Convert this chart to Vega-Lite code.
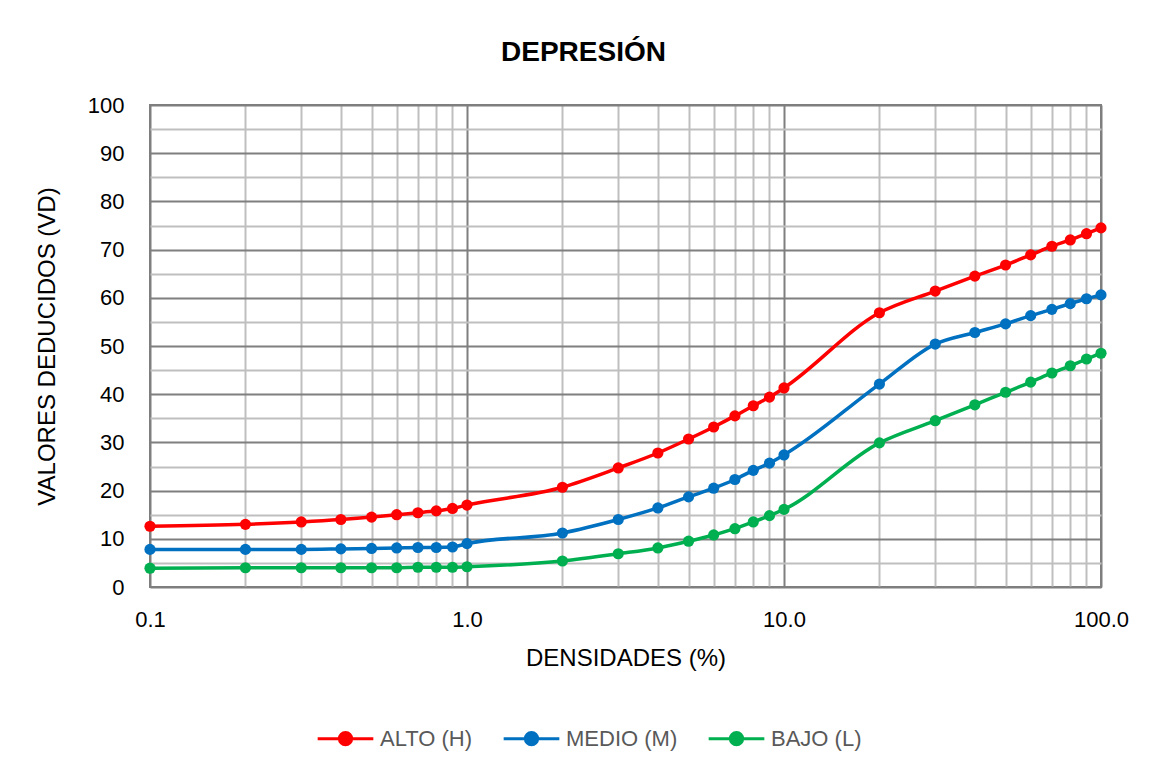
{
  "$schema": "https://vega.github.io/schema/vega-lite/v6.json",
  "width": 951,
  "height": 482,
  "autosize": {"type": "none"},
  "padding": {"left": 150, "top": 105, "right": 56, "bottom": 184},
  "background": "white",
  "title": {"text": "DEPRESIÓN", "fontSize": 28, "fontWeight": "bold", "font": "Liberation Sans", "color": "#000000", "offset": 27, "dx": -42},
  "config": {
    "view": {"stroke": "#7f7f7f", "strokeWidth": 2},
    "font": "Liberation Sans"
  },
  "data": {"values": [
    {"d": 0.1, "v": 12.6, "s": "ALTO (H)"}, {"d": 0.2, "v": 13.0, "s": "ALTO (H)"}, {"d": 0.3, "v": 13.5, "s": "ALTO (H)"}, {"d": 0.4, "v": 14.0, "s": "ALTO (H)"}, {"d": 0.5, "v": 14.5, "s": "ALTO (H)"}, {"d": 0.6, "v": 15.0, "s": "ALTO (H)"}, {"d": 0.7, "v": 15.4, "s": "ALTO (H)"}, {"d": 0.8, "v": 15.8, "s": "ALTO (H)"}, {"d": 0.9, "v": 16.3, "s": "ALTO (H)"}, {"d": 1, "v": 17.0, "s": "ALTO (H)"},
    {"d": 2, "v": 20.7, "s": "ALTO (H)"}, {"d": 3, "v": 24.7, "s": "ALTO (H)"}, {"d": 4, "v": 27.8, "s": "ALTO (H)"}, {"d": 5, "v": 30.7, "s": "ALTO (H)"}, {"d": 6, "v": 33.2, "s": "ALTO (H)"}, {"d": 7, "v": 35.5, "s": "ALTO (H)"}, {"d": 8, "v": 37.6, "s": "ALTO (H)"}, {"d": 9, "v": 39.4, "s": "ALTO (H)"}, {"d": 10, "v": 41.3, "s": "ALTO (H)"},
    {"d": 20, "v": 56.9, "s": "ALTO (H)"}, {"d": 30, "v": 61.4, "s": "ALTO (H)"}, {"d": 40, "v": 64.5, "s": "ALTO (H)"}, {"d": 50, "v": 66.8, "s": "ALTO (H)"}, {"d": 60, "v": 68.9, "s": "ALTO (H)"}, {"d": 70, "v": 70.7, "s": "ALTO (H)"}, {"d": 80, "v": 72.0, "s": "ALTO (H)"}, {"d": 90, "v": 73.3, "s": "ALTO (H)"}, {"d": 100, "v": 74.5, "s": "ALTO (H)"},
    {"d": 0.1, "v": 7.8, "s": "MEDIO (M)"}, {"d": 0.2, "v": 7.8, "s": "MEDIO (M)"}, {"d": 0.3, "v": 7.8, "s": "MEDIO (M)"}, {"d": 0.4, "v": 7.9, "s": "MEDIO (M)"}, {"d": 0.5, "v": 8.0, "s": "MEDIO (M)"}, {"d": 0.6, "v": 8.1, "s": "MEDIO (M)"}, {"d": 0.7, "v": 8.2, "s": "MEDIO (M)"}, {"d": 0.8, "v": 8.2, "s": "MEDIO (M)"}, {"d": 0.9, "v": 8.3, "s": "MEDIO (M)"}, {"d": 1, "v": 9.0, "s": "MEDIO (M)"},
    {"d": 2, "v": 11.2, "s": "MEDIO (M)"}, {"d": 3, "v": 14.0, "s": "MEDIO (M)"}, {"d": 4, "v": 16.4, "s": "MEDIO (M)"}, {"d": 5, "v": 18.7, "s": "MEDIO (M)"}, {"d": 6, "v": 20.5, "s": "MEDIO (M)"}, {"d": 7, "v": 22.3, "s": "MEDIO (M)"}, {"d": 8, "v": 24.2, "s": "MEDIO (M)"}, {"d": 9, "v": 25.7, "s": "MEDIO (M)"}, {"d": 10, "v": 27.4, "s": "MEDIO (M)"},
    {"d": 20, "v": 42.1, "s": "MEDIO (M)"}, {"d": 30, "v": 50.4, "s": "MEDIO (M)"}, {"d": 40, "v": 52.8, "s": "MEDIO (M)"}, {"d": 50, "v": 54.6, "s": "MEDIO (M)"}, {"d": 60, "v": 56.3, "s": "MEDIO (M)"}, {"d": 70, "v": 57.6, "s": "MEDIO (M)"}, {"d": 80, "v": 58.8, "s": "MEDIO (M)"}, {"d": 90, "v": 59.8, "s": "MEDIO (M)"}, {"d": 100, "v": 60.6, "s": "MEDIO (M)"},
    {"d": 0.1, "v": 3.9, "s": "BAJO (L)"}, {"d": 0.2, "v": 4.0, "s": "BAJO (L)"}, {"d": 0.3, "v": 4.0, "s": "BAJO (L)"}, {"d": 0.4, "v": 4.0, "s": "BAJO (L)"}, {"d": 0.5, "v": 4.0, "s": "BAJO (L)"}, {"d": 0.6, "v": 4.0, "s": "BAJO (L)"}, {"d": 0.7, "v": 4.1, "s": "BAJO (L)"}, {"d": 0.8, "v": 4.1, "s": "BAJO (L)"}, {"d": 0.9, "v": 4.1, "s": "BAJO (L)"}, {"d": 1, "v": 4.2, "s": "BAJO (L)"},
    {"d": 2, "v": 5.4, "s": "BAJO (L)"}, {"d": 3, "v": 6.9, "s": "BAJO (L)"}, {"d": 4, "v": 8.1, "s": "BAJO (L)"}, {"d": 5, "v": 9.5, "s": "BAJO (L)"}, {"d": 6, "v": 10.8, "s": "BAJO (L)"}, {"d": 7, "v": 12.1, "s": "BAJO (L)"}, {"d": 8, "v": 13.5, "s": "BAJO (L)"}, {"d": 9, "v": 14.8, "s": "BAJO (L)"}, {"d": 10, "v": 16.1, "s": "BAJO (L)"},
    {"d": 20, "v": 29.9, "s": "BAJO (L)"}, {"d": 30, "v": 34.5, "s": "BAJO (L)"}, {"d": 40, "v": 37.8, "s": "BAJO (L)"}, {"d": 50, "v": 40.4, "s": "BAJO (L)"}, {"d": 60, "v": 42.5, "s": "BAJO (L)"}, {"d": 70, "v": 44.4, "s": "BAJO (L)"}, {"d": 80, "v": 45.9, "s": "BAJO (L)"}, {"d": 90, "v": 47.3, "s": "BAJO (L)"}, {"d": 100, "v": 48.5, "s": "BAJO (L)"}
  ]},
  "encoding": {
    "x": {
      "field": "d", "type": "quantitative",
      "scale": {"type": "log", "domain": [0.1, 100], "nice": false},
      "axis": {
        "title": "DENSIDADES (%)",
        "values": [0.1, 0.2, 0.3, 0.4, 0.5, 0.6, 0.7, 0.8, 0.9, 1, 2, 3, 4, 5, 6, 7, 8, 9, 10, 20, 30, 40, 50, 60, 70, 80, 90, 100],
        "labelExpr": "indexof([0.1, 1, 10, 100], datum.value) >= 0 ? format(datum.value, '.1f') : ''",
        "grid": true,
        "gridColor": {"condition": {"test": "indexof([0.1, 1, 10, 100], datum.value) >= 0", "value": "#7f7f7f"}, "value": "#bfbfbf"},
        "gridWidth": 2,
        "domain": false,
        "ticks": false,
        "labelFontSize": 22,
        "labelColor": "#000000",
        "labelPadding": 22,
        "labelFlush": false,
        "labelOverlap": false,
        "titleFontSize": 24,
        "titleFontWeight": "normal",
        "titleColor": "#000000",
        "titlePadding": 16
      }
    },
    "y": {
      "field": "v", "type": "quantitative",
      "scale": {"domain": [0, 100], "nice": false},
      "axis": {
        "title": "VALORES DEDUCIDOS (VD)",
        "values": [0, 5, 10, 15, 20, 25, 30, 35, 40, 45, 50, 55, 60, 65, 70, 75, 80, 85, 90, 95, 100],
        "labelExpr": "datum.value % 10 == 0 ? datum.value : ''",
        "grid": true,
        "gridColor": {"condition": {"test": "datum.value % 10 == 0", "value": "#7f7f7f"}, "value": "#bfbfbf"},
        "gridWidth": 2,
        "domain": false,
        "ticks": false,
        "labelFontSize": 22,
        "labelColor": "#000000",
        "labelPadding": 26,
        "labelOverlap": false,
        "titleFontSize": 24,
        "titleFontWeight": "normal",
        "titleColor": "#000000",
        "titlePadding": 28
      }
    },
    "color": {
      "field": "s", "type": "nominal",
      "scale": {"domain": ["ALTO (H)", "MEDIO (M)", "BAJO (L)"], "range": ["#FF0000", "#0070C0", "#00B050"]},
      "legend": {
        "title": null,
        "orient": "none",
        "legendX": 166,
        "legendY": 604,
        "direction": "horizontal",
        "symbolType": "M-1,0L1,0M-0.22,0A0.22,0.22 0 1,0 0.22,0A0.22,0.22 0 1,0 -0.22,0Z",
        "symbolSize": 3100,
        "symbolStrokeWidth": 3,
        "symbolFillColor": null,
        "labelFontSize": 22,
        "labelColor": "#595959",
        "columnPadding": 24,
        "labelOffset": 5
      }
    }
  },
  "layer": [
    {"mark": {"type": "line", "interpolate": "monotone", "strokeWidth": 3.5}},
    {"mark": {"type": "point", "filled": true, "size": 125, "opacity": 1}}
  ]
}
